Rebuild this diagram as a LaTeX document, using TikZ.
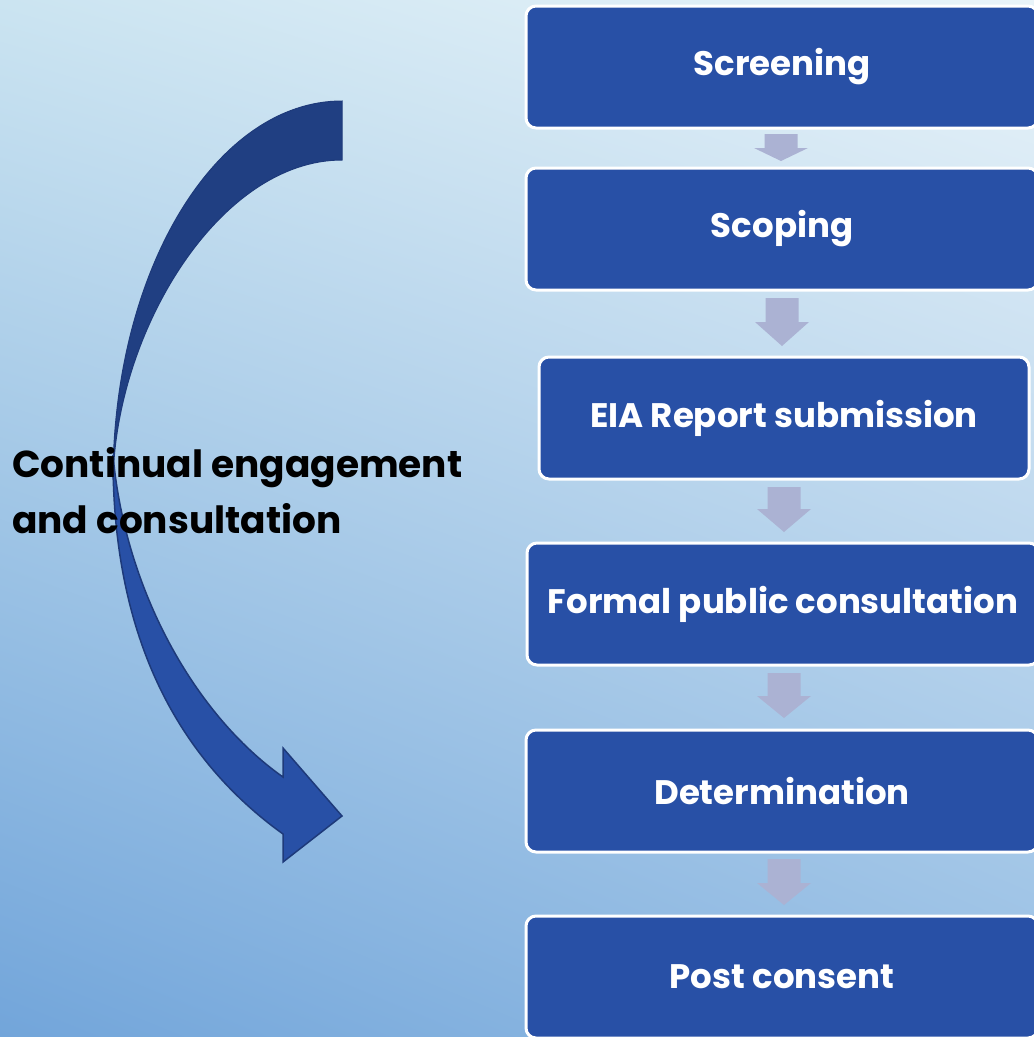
\documentclass[tikz,border=0pt]{standalone}
\usepackage{fontspec}
\setmainfont{Poppins}
\usetikzlibrary{shadings}
\definecolor{bgUL}{RGB}{203,228,241}
\definecolor{bgUR}{RGB}{233,244,249}
\definecolor{bgLL}{RGB}{114,165,218}
\definecolor{bgLR}{RGB}{150,190,228}
\definecolor{boxblue}{RGB}{40,80,166}
\definecolor{flowarrowc}{RGB}{171,178,211}
\definecolor{arcdark}{RGB}{32,63,130}
\definecolor{arclight}{RGB}{40,80,166}
\definecolor{arcline}{RGB}{30,58,122}
\tikzset{
  stepbox/.style={draw=white, line width=3pt, fill=boxblue, rounded corners=10pt,
    text=white, font=\fontsize{34}{40}\selectfont\bfseries, inner sep=0pt,
    minimum height=122pt},
  flowarrow/.style={fill=flowarrowc, draw=none},
  sidetext/.style={anchor=base west, inner sep=0pt, font=\fontsize{37.5}{45}\selectfont\bfseries},
}
\newcommand\flowarr[4]{\fill[flowarrow] (#1-16.5,#2) -- (#1+16.5,#2) -- (#1+16.5,#3) -- (#1+27,#3) -- (#1,#4) -- (#1-27,#3) -- (#1-16.5,#3) -- cycle;}
\begin{document}
\begin{tikzpicture}[x=1pt,y=-1pt]
\useasboundingbox (0,0) rectangle (1034,1037);
\shade[upper left=bgUL, upper right=bgUR, lower left=bgLL, lower right=bgLR] (0,0) rectangle (1034,1037);
% process boxes
\node[stepbox, minimum width=512pt] (s1) at (782,67) {Screening};
\node[stepbox, minimum width=512pt] (s2) at (782,229) {Scoping};
\node[stepbox, minimum width=490pt] (s3) at (784,418) {EIA Report submission};
\node[stepbox, minimum width=512pt] (s4) at (783,604) {Formal public consultation};
\node[stepbox, minimum width=512pt] (s5) at (782,791) {Determination};
\node[stepbox, minimum width=512pt] (s6) at (782,977) {Post consent};
% flow arrows
\flowarr{781}{134}{148}{161}
\flowarr{782}{298}{322}{346}
\flowarr{784}{487}{509}{532}
\flowarr{784}{673}{696}{718}
\flowarr{784}{859}{883}{905}
% curved arrow
\filldraw[fill=arcdark, draw=arcline, line width=1pt] (342,101) .. controls (216,101) and (113,270) .. (113,480) .. controls (116,330) and (220,160) .. (342,160) -- cycle;
\filldraw[fill=arclight, draw=arcline, line width=1.5pt, line join=miter] (113,455) .. controls (112,640) and (180,760) .. (283,834) -- (283,862) -- (342,816) -- (283,748) -- (283,777) .. controls (195,715) and (125,590) .. (113,455) -- cycle;
\node[sidetext] (cec1) at (12,477) {Continual engagement};
\node[sidetext] (cec2) at (12,533) {and consultation};
\end{tikzpicture}
\end{document}
